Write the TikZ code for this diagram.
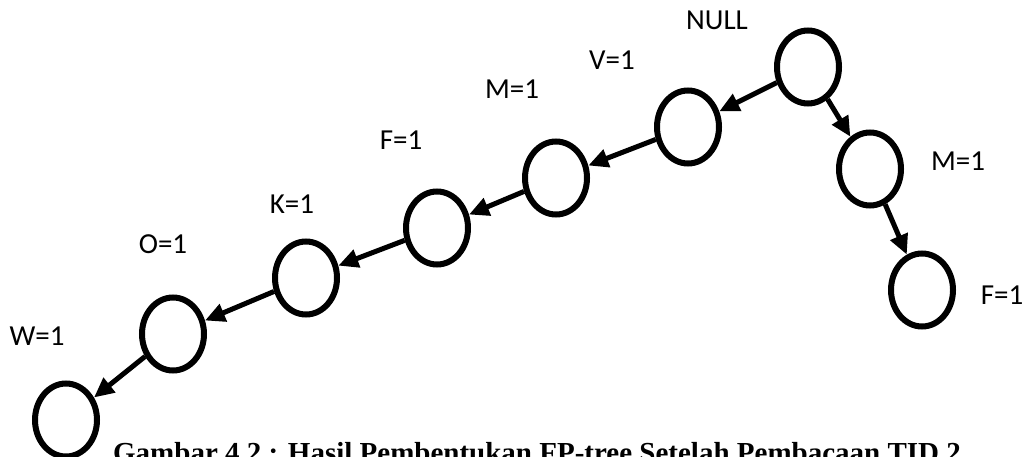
\documentclass[tikz,border=0pt]{standalone}
\usepackage{fontspec}
\setmainfont{Carlito}
\newfontfamily\capfont{Liberation Serif}
\usetikzlibrary{shapes.geometric,arrows.meta}
\begin{document}
\begin{tikzpicture}[x=1pt,y=-1pt,
  treenode/.style={draw,ellipse,line width=6pt,minimum width=62pt,minimum height=73pt,inner sep=0pt},
  lbl/.style={anchor=base,inner sep=0pt,font=\fontsize{29}{32}\selectfont},
  edge/.style={line width=5pt,-{Triangle[length=20pt,width=18pt]}}]
\useasboundingbox (0,0) rectangle (1030,457);
\begin{scope}
\clip (0,0) rectangle (1030,457);
\node[treenode] (null) at (808,67) {};
\node[treenode] (v) at (688,127) {};
\node[treenode] (m) at (556,178) {};
\node[treenode] (f) at (437,228) {};
\node[treenode] (k) at (306,278) {};
\node[treenode] (o) at (173,334) {};
\node[treenode] (w) at (66,420) {};
\node[treenode] (m2) at (870,169) {};
\node[treenode] (f2) at (922,290) {};

\node[lbl] (lnull) at (717,30) {NULL};
\node[lbl] (lv) at (612,70) {V=1};
\node[lbl] (lm) at (512,99) {M=1};
\node[lbl] (lf) at (401,150) {F=1};
\node[lbl] (lk) at (292,213) {K=1};
\node[lbl] (lo) at (163,253) {O=1};
\node[lbl] (lw) at (37,345) {W=1};
\node[lbl] (lm2) at (958,171) {M=1};
\node[lbl] (lf2) at (1002,304) {F=1};

\draw[edge] (null) -- (v);
\draw[edge] (v) -- (m);
\draw[edge] (m) -- (f);
\draw[edge] (f) -- (k);
\draw[edge] (k) -- (o);
\draw[edge] (o) -- (w);
\draw[edge] (null) -- (m2);
\draw[edge] (m2) -- (f2);

\node[anchor=base,inner sep=0pt,font=\capfont\bfseries\fontsize{29}{32}\selectfont] (cap) at (537,462) {Gambar 4.2 : Hasil Pembentukan FP-tree Setelah Pembacaan TID 2};
\end{scope}
\end{tikzpicture}
\end{document}
